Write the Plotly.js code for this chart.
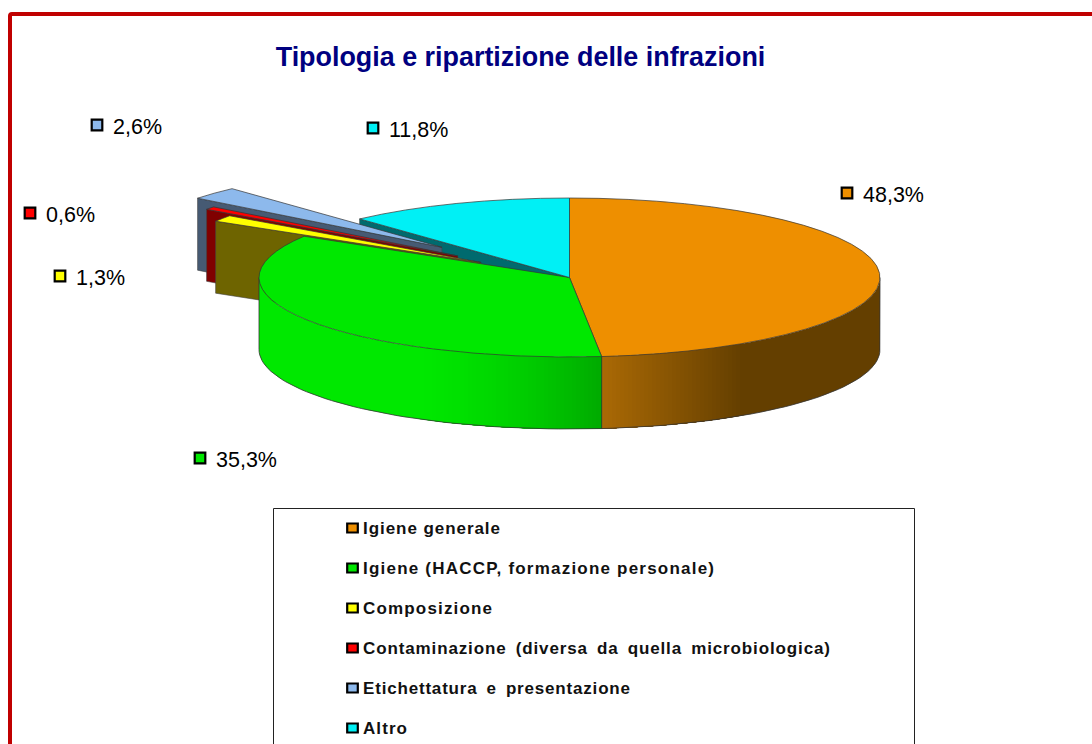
<!DOCTYPE html>
<html>
<head>
<meta charset="utf-8">
<script src="https://cdn.plot.ly/plotly-3.0.1.min.js"></script>
<style>html,body{margin:0;padding:0;background:#fff;overflow:hidden}#chart{width:1092px;height:744px}</style>
</head>
<body>
<div id="chart"></div>
<script>
const chartTitle = 'Tipologia e ripartizione delle infrazioni';
const categories = ['Igiene generale','Igiene (HACCP, formazione personale)','Composizione','Contaminazione (diversa da quella microbiologica)','Etichettatura e presentazione','Altro'];
const shares = [48.3, 35.3, 1.3, 0.6, 2.6, 11.8];
const pulls = [0, 0, 0.342, 0.45, 0.56, 0];
const topColors = ['#EE8F00','#00E800','#FFFF00','#FF0000','#8DB9EC','#00F0F5'];
const sideColors = ['#643F00','#00A800','#6E6400','#800000','#465A73','#006A6E'];
const labelSwatchX = [847, 200, 60, 30, 97, 373];
const labelSwatchY = [193, 458, 276, 213, 125, 128];
const legendTextWidths = [137, 351, 129, 467, 267, 44];
const legendWordGaps = [0, 0, 0, 3.5, 3.5, 0];

const CX = 569.5, CY = 277.5, RX = 310.5, RY = 79.5, DEPTH = 72;
const W = 1092, H = 744;
const total = shares.reduce((a, b) => a + b, 0);
const rad = d => d * Math.PI / 180;
const pt = (deg, ox, oy, drop) => [CX + ox + RX * Math.sin(rad(deg)), CY + oy + drop - RY * Math.cos(rad(deg))];

// slice angle spans and explode offsets, from the values
let acc = 0;
const slices = shares.map((v, i) => {
  const a0 = acc / total * 360; acc += v; const a1 = acc / total * 360;
  const mid = (a0 + a1) / 2;
  return {a0, a1, ox: RX * pulls[i] * Math.sin(rad(mid)), oy: -RY * pulls[i] * Math.cos(rad(mid))};
});

const traces = [];
function poly(pts, fill, lineColor, lw) {
  traces.push({type:'scatter', mode: lw ? 'lines' : 'none', x:pts.map(p=>p[0]), y:pts.map(p=>p[1]), fill:'toself', fillcolor:fill,
    line:{color:lineColor, width:lw, simplify:false}, hoverinfo:'skip', showlegend:false});
}
function line(pts, color, lw) {
  traces.push({type:'scatter', mode:'lines', x:pts.map(p=>p[0]), y:pts.map(p=>p[1]),
    line:{color, width:lw}, hoverinfo:'skip', showlegend:false});
}
// radial faces of the rear slices, back to front
[5, 4, 3, 2].forEach(i => {
  const s = slices[i];
  const c = pt(s.a0, s.ox, s.oy, 0), cb = pt(s.a0, s.ox, s.oy, DEPTH);
  const t = [CX + s.ox, CY + s.oy], tb = [CX + s.ox, CY + s.oy + DEPTH];
  poly([c, t, tb, cb, c], sideColors[i], '#444', 0.6);
});
// front wall: a solid base, then gradient bands with no seams
const mix = (a, b, k) => a.map((v, j) => Math.round(v + (b[j] - v) * k));
function wallColor(i, x) {
  if (i === 0) {
    const k = Math.min(1, Math.max(0, (x - 604) / 140));
    return mix([170,105,5],[100,63,0],k);
  }
  const k = Math.min(1, Math.max(0, (x - 420) / 184));
  return mix([0,232,0],[0,168,0],k*k*0.5 + k*0.5);
}
function wall(from, to) {
  const pts = [];
  const n = Math.max(1, Math.ceil((to - from) / 1));
  for (let k = 0; k <= n; k++) pts.push(pt(from + (to - from) * k / n, 0, 0, 0));
  for (let k = n; k >= 0; k--) pts.push(pt(from + (to - from) * k / n, 0, 0, DEPTH));
  pts.push(pts[0]);
  return pts;
}
poly(wall(90, slices[0].a1), 'rgb(100,63,0)', '', 0);
poly(wall(slices[1].a0, 270), 'rgb(0,232,0)', '', 0);
// orange: paint from the dark end toward the split so each band overlaps the last
for (let x = 744; x >= 604; x -= 4) {
  const a = 180 - Math.asin(Math.min(1, (x - CX) / RX)) * 180 / Math.PI;
  const col = 'rgb(' + wallColor(0, x).join(',') + ')';
  poly(wall(a, slices[0].a1), col, '', 0);
}
// green: paint from the bright end toward the split
for (let x = 420; x <= 602; x += 4) {
  const a = 180 + Math.asin(Math.min(1, (CX - x) / RX)) * 180 / Math.PI;
  const col = 'rgb(' + wallColor(1, x).join(',') + ')';
  poly(wall(slices[1].a0, a), col, '', 0);
}
// wall outline
const edge = [];
for (let d = 90; d <= 270; d += 2) edge.push(pt(d,0,0,DEPTH));
line([pt(90,0,0,0)].concat(edge, [pt(270,0,0,0)]), '#333', 0.8);
line([pt(slices[0].a1,0,0,0), pt(slices[0].a1,0,0,DEPTH)], '#333', 0.8);

// top faces
traces.push({type:'pie', values:shares, labels:categories, sort:false, direction:'clockwise', rotation:0,
  pull:pulls, textinfo:'none', hoverinfo:'skip', showlegend:false, domain:{x:[0,1],y:[0,1]},
  marker:{colors:topColors, line:{color:'#333', width:0.7}}});

const fontFam = '"Liberation Sans", Arial, sans-serif';
const annotations = [], shapes = [];
const blackBox = (cx, cy, hw, hh, fill) => shapes.push({type:'rect', xref:'x', yref:'y', x0:cx-hw, x1:cx+hw, y0:cy-hh, y1:cy+hh,
  fillcolor:fill, line:{color:'#000', width:2.2}, layer:'above'});

// value labels
shares.forEach((v, i) => {
  blackBox(labelSwatchX[i], labelSwatchY[i], 5.3, 5.3, topColors[i]);
  annotations.push({xref:'x', yref:'y', x:labelSwatchX[i] + 14, y:labelSwatchY[i] + 2, xanchor:'left', yanchor:'middle',
    showarrow:false, text:v.toFixed(1).replace('.', ',') + '%', font:{family:fontFam, size:21.5, color:'#000'}});
});
// legend box and entries
shapes.push({type:'path', xref:'x', yref:'y', path:'M273.5,744 L273.5,508.5 L914.5,508.5 L914.5,744', line:{color:'#222', width:1}, fillcolor:'rgba(0,0,0,0)', layer:'above'});
categories.forEach((c, i) => {
  const y = 528 + i * 40;
  blackBox(352.5, y, 5.3, 4.5, topColors[i]);
  annotations.push({xref:'x', yref:'y', x:361, y:y, xanchor:'left', yanchor:'middle', showarrow:false,
    text:c, font:{family:fontFam, size:17, color:'#111', weight:700}});
});
// frame
shapes.push({type:'path', xref:'x', yref:'y', path:'M10,744 L10,16 Q10,14 12,14 L1092,14', line:{color:'#C00000', width:4}, fillcolor:'rgba(0,0,0,0)', layer:'above'});

const layout = {
  width:W, height:H, margin:{l:0,r:0,t:0,b:0,pad:0}, paper_bgcolor:'#fff', plot_bgcolor:'#fff', showlegend:false,
  title:{text:chartTitle, x:520.5/W, xanchor:'center', y:1-57/H, yanchor:'middle', font:{family:fontFam, size:26.9, color:'#000080', weight:700}},
  xaxis:{range:[0,W], visible:false, fixedrange:true},
  yaxis:{range:[H,0], visible:false, fixedrange:true},
  annotations, shapes
};
Plotly.newPlot('chart', traces, layout, {staticPlot:true, displayModeBar:false}).then(gd => {
  const pieCalc = gd.calcdata.find(c => c[0].trace.type === 'pie')[0];
  const r = pieCalc.r, sx = RX / r, sy = RY / r;
  const layer = gd.querySelector('.pielayer');
  layer.setAttribute('transform', `translate(${CX},${CY}) scale(${sx},${sy}) translate(${-pieCalc.cx},${-pieCalc.cy})`);
  layer.querySelectorAll('path').forEach(p => p.setAttribute('vector-effect', 'non-scaling-stroke'));
  gd.querySelectorAll('.annotation').forEach(a => {
    const idx = +a.getAttribute('data-index') - shares.length;
    if (idx < 0) return;
    const t = a.querySelector('text');
    if (!t) return;
    const bb = t.getBBox();
    const str = t.textContent;
    const words = str.split(' ').length - 1;
    t.setAttribute('text-anchor', 'start');
    t.setAttribute('x', bb.x);
    t.style.wordSpacing = legendWordGaps[idx] + 'px';
    const spacing = (legendTextWidths[idx] - bb.width - words * legendWordGaps[idx]) / (str.length - 1);
    t.style.letterSpacing = spacing + 'px';
  });
});
</script>
</body>
</html>
